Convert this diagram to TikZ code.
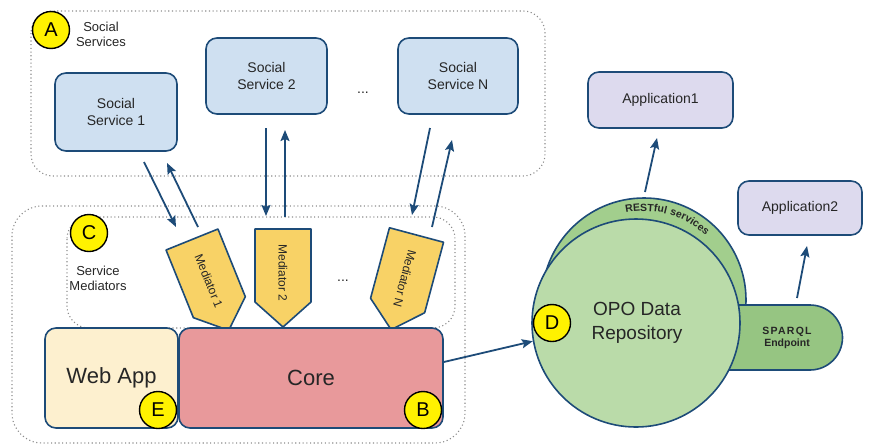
\documentclass[tikz,border=0pt]{standalone}
\usepackage{fontspec}
\setmainfont{Liberation Sans}
\usetikzlibrary{arrows.meta,decorations.text}
\definecolor{edge}{HTML}{1D4B78}
\definecolor{svc}{HTML}{CFE0F1}
\definecolor{appc}{HTML}{DDDAEE}
\definecolor{medc}{HTML}{F8D266}
\definecolor{webc}{HTML}{FDF0CF}
\definecolor{corec}{HTML}{E8999B}
\definecolor{greenA}{HTML}{BADBA9}
\definecolor{greenB}{HTML}{A2CE8D}
\definecolor{greenC}{HTML}{96C582}
\definecolor{txt}{HTML}{262626}
\begin{document}
\begin{tikzpicture}[x=1pt,y=1pt,
  box/.style={draw=edge, line width=1.6pt, rounded corners=11pt, inner sep=0pt, align=center, text=txt},
  lbl/.style={circle, draw=black, fill=yellow, line width=1.4pt, minimum size=37pt, inner sep=0pt, font=\fontsize{20}{20}\selectfont},
  arr/.style={draw=edge, line width=1.8pt, -{Stealth[length=11pt,width=9pt,inset=2pt]}},
  dotbox/.style={draw=black!45, line width=1.1pt, dash pattern=on 1.1pt off 2.6pt},
  med/.style={draw=edge, fill=medc, line width=1.6pt, line join=round},
  medtext/.style={font=\fontsize{12}{14}\selectfont, text=txt, inner sep=1pt},
  note/.style={font=\fontsize{13}{15}\selectfont, align=center, text=txt}
]
\useasboundingbox (0,0) rectangle (872,-445);

% dotted groups
\draw[dotbox, rounded corners=22pt] (31,-11) rectangle (545,-176);
\draw[dotbox, rounded corners=30pt] (12,-206) rectangle (465,-443);
\draw[dotbox, rounded corners=22pt] (67,-217) rectangle (455,-328);

% social services
\node[lbl] (A) at (51,-30) {A};
\node[note] (ssl) at (101,-34) {Social\\Services};
\node[box, fill=svc, minimum width=122pt, minimum height=78pt, font=\fontsize{14}{17}\selectfont] (ss1) at (116,-112) {Social\\Service 1};
\node[box, fill=svc, minimum width=121pt, minimum height=76pt, font=\fontsize{14}{17}\selectfont] (ss2) at (266.5,-76) {Social\\Service 2};
\node[box, fill=svc, minimum width=120pt, minimum height=76pt, font=\fontsize{14}{17}\selectfont] (ssn) at (458,-76) {Social\\Service N};
\node[font=\fontsize{14}{17}\selectfont, text=txt] (dots1) at (363,-93) {...};

% mediators
\node[lbl] (C) at (89,-233) {C};
\node[note] (sml) at (98,-278) {Service\\Mediators};
\begin{scope}[shift={(192,-239.5)}, rotate=22]
  \draw[med] (-28,0) -- (28,0) -- (28,-73) -- (0,-98) -- (-28,-73) -- cycle;
  \node[medtext, rotate=-68] (m1) at (0,-45) {Mediator 1};
\end{scope}
\begin{scope}[shift={(283,-229)}]
  \draw[med] (-28,0) -- (28,0) -- (28,-73) -- (0,-98) -- (-28,-73) -- cycle;
  \node[medtext, rotate=-90] (m2) at (0,-44) {Mediator 2};
\end{scope}
\begin{scope}[shift={(416.5,-235)}, rotate=-15]
  \draw[med] (-28,0) -- (28,0) -- (28,-73) -- (0,-98) -- (-28,-73) -- cycle;
  \node[medtext, rotate=-105] (mn) at (0,-45) {Mediator N};
\end{scope}
\node[font=\fontsize{14}{17}\selectfont, text=txt] (dots2) at (343,-281) {...};

% web app and core
\node[box, fill=webc, minimum width=133pt, minimum height=100pt, font=\fontsize{22}{26}\selectfont] (web) at (111.5,-378) {Web App};
\node[box, fill=corec, minimum width=264pt, minimum height=100pt, font=\fontsize{22}{26}\selectfont] (core) at (311,-378) {Core};
\node[lbl] (E) at (158,-410) {E};
\node[lbl] (B) at (423,-410) {B};

% repository
\draw[draw=edge, fill=greenB, line width=1.6pt] (644,-300) circle[radius=102pt];
\path[decorate, decoration={text along path, text align=center,
   text={|\bfseries\fontsize{10.5}{12}\selectfont\addfontfeatures{LetterSpace=6}\color{txt}|RESTful services}}]
   (644,-300) ++(112:89pt) arc[start angle=112, end angle=36, radius=89pt];
\draw[draw=edge, fill=greenC, line width=1.6pt] (715,-305) -- (810,-305) arc[start angle=90, end angle=-90, radius=32.5pt] -- (715,-370) -- cycle;
\node[font=\bfseries\fontsize{10.5}{12.5}\selectfont, align=center, text=txt] (sparql) at (787,-338) {\addfontfeatures{LetterSpace=12}SPARQL\\Endpoint};
\node[circle, draw=edge, fill=greenA, line width=1.6pt, minimum size=208pt, inner sep=0pt] (repo) at (636,-323) {};
\node[font=\fontsize{19}{24}\selectfont, align=center, text=txt] (repotext) at (637,-323) {OPO Data\\Repository};
\node[lbl] (D) at (552,-323) {D};

% applications
\node[box, fill=appc, minimum width=145pt, minimum height=56pt, font=\fontsize{14}{17}\selectfont] (app1) at (660.5,-100) {Application1};
\node[box, fill=appc, minimum width=124pt, minimum height=54pt, font=\fontsize{14}{17}\selectfont] (app2) at (800,-208) {Application2};

% connectors
\coordinate (a1s) at (144,-162); \coordinate (a1e) at (176,-227);
\coordinate (a2s) at (198,-227); \coordinate (a2e) at (167,-163);
\coordinate (a3s) at (266,-128); \coordinate (a3e) at (266,-216);
\coordinate (a4s) at (285,-217); \coordinate (a4e) at (285,-130);
\coordinate (a5s) at (430,-128); \coordinate (a5e) at (412,-215);
\coordinate (a6s) at (432,-227); \coordinate (a6e) at (452,-140);
\coordinate (r1s) at (645,-192); \coordinate (r1e) at (657,-138);
\coordinate (r2s) at (797,-298); \coordinate (r2e) at (807,-246);
\draw[arr] (a1s) -- (a1e);
\draw[arr] (a2s) -- (a2e);
\draw[arr] (a3s) -- (a3e);
\draw[arr] (a4s) -- (a4e);
\draw[arr] (a5s) -- (a5e);
\draw[arr] (a6s) -- (a6e);
\draw[arr] ([yshift=16pt]core.east) -- (repo.190);
\draw[arr] (r1s) -- (r1e);
\draw[arr] (r2s) -- (r2e);
\end{tikzpicture}
\end{document}
